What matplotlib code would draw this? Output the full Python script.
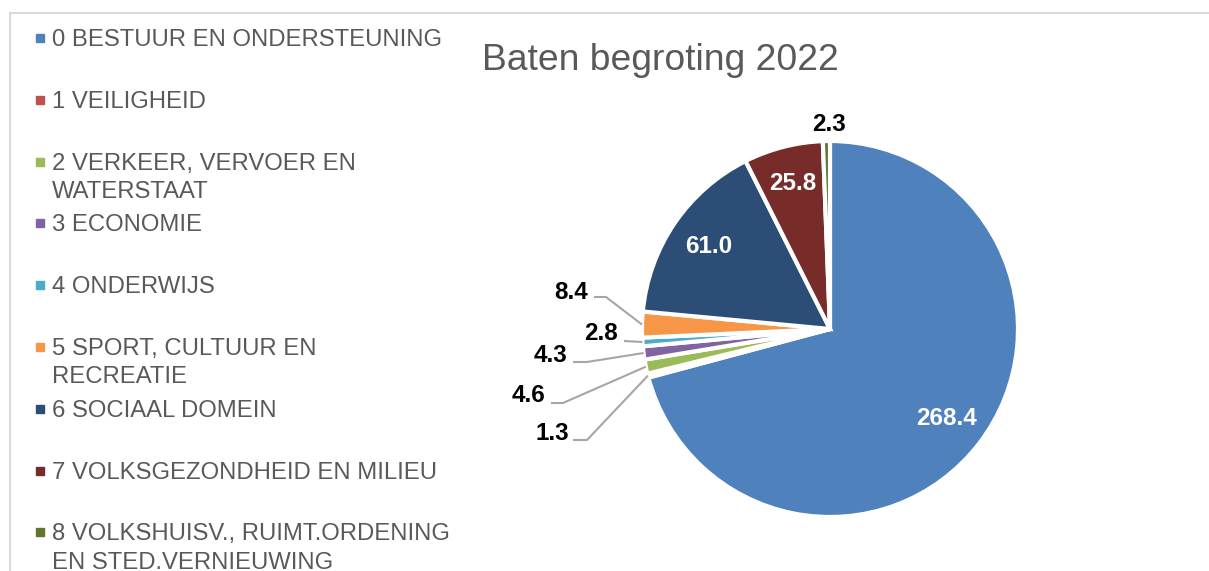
import numpy as np
import matplotlib
matplotlib.use('Agg')
import matplotlib.pyplot as plt
from matplotlib.patches import Rectangle
from matplotlib.lines import Line2D

plt.rcParams['font.family'] = ['Liberation Sans', 'DejaVu Sans']

categories = ['0 BESTUUR EN ONDERSTEUNING', '1 VEILIGHEID',
              '2 VERKEER, VERVOER EN\nWATERSTAAT', '3 ECONOMIE', '4 ONDERWIJS',
              '5 SPORT, CULTUUR EN\nRECREATIE', '6 SOCIAAL DOMEIN',
              '7 VOLKSGEZONDHEID EN MILIEU',
              '8 VOLKSHUISV., RUIMT.ORDENING\nEN STED.VERNIEUWING']
values = [268.4, 1.3, 4.6, 4.3, 2.8, 8.4, 61.0, 25.8, 2.3]
colors = ['#4F81BD', '#C0504D', '#9BBB59', '#8064A2', '#4BACC6',
          '#F79646', '#2C4D75', '#772C2A', '#5F7530']
title = 'Baten begroting 2022'

W, H = 1209, 571
cx, cy, R = 830, 329, 188  # pie centre / radius in pixels

fig = plt.figure(figsize=(W/100, H/100), dpi=100)
ax = fig.add_axes([0, 0, 1, 1])

def px(x, y):
    # pixel (from top-left) -> data coords of the pie axes
    return (x-cx)/R, (cy-y)/R

wedges, _ = ax.pie(values, colors=colors, startangle=90, counterclock=False,
                   radius=1.0, center=(0, 0), frame=True,
                   wedgeprops=dict(edgecolor='white', linewidth=3))
ax.set_xlim(-cx/R, (W-cx)/R)
ax.set_ylim((cy-H)/R, cy/R)
ax.set_aspect('equal')
ax.axis('off')

# label placement (pixels): inside labels use r fraction, outside use text pos + elbow
inside = {0: 0.78, 6: 0.78, 7: 0.80}
outside = {5: ((571, 292), (594, 297), (606, 297)),
           4: ((601, 334), (624, 341), (624, 341)),
           3: ((551, 355), (573, 362), (587, 362)),
           2: ((528, 396), (551, 403), (563, 403)),
           1: ((552, 433), (573, 440), (587, 440))}

lblsize = 17.5
for i, w in enumerate(wedges):
    mid = np.deg2rad((w.theta1 + w.theta2) / 2)
    lab = '%.1f' % values[i]
    if i in inside:
        r = inside[i]
        ax.text(r*np.cos(mid), r*np.sin(mid), lab, color='white', fontsize=lblsize,
                fontweight='bold', ha='center', va='center')
    elif i in outside:
        tp, p1, p2 = outside[i]
        ex, ey = 1.0*np.cos(mid), 1.0*np.sin(mid)
        xs = [px(*p1)[0], px(*p2)[0], ex]
        ys = [px(*p1)[1], px(*p2)[1], ey]
        ax.plot(xs, ys, color='#A6A6A6', lw=1.5, solid_capstyle='butt')
        ax.text(*px(*tp), lab, color='black', fontsize=lblsize, fontweight='bold',
                ha='center', va='center')
    else:
        ax.text(*px(829, 124), lab, color='black', fontsize=lblsize,
                fontweight='bold', ha='center', va='center')

# title
fig.text(660/W, 1-60/H, title, fontsize=26.8, color='#595959',
         ha='center', va='center')

# legend, first-line spacing fixed like the original
for i, (lab, c) in enumerate(zip(categories, colors)):
    y = 38 + 61.8*i
    fig.patches.append(Rectangle((36/W, 1-(y+4)/H), 8/W, 8/H, color=c,
                                 transform=fig.transFigure, figure=fig))
    fig.text(52/W, 1-(y-9)/H, lab, fontsize=17.2, color='#595959',
             ha='left', va='top', linespacing=1.38)

# chart border
fig.add_artist(Line2D([10/W, 1], [1-13/H, 1-13/H], color='#D9D9D9', lw=1.5,
                      transform=fig.transFigure))
fig.add_artist(Line2D([10/W, 10/W], [1-13/H, 0], color='#D9D9D9', lw=1.5,
                      transform=fig.transFigure))

fig.savefig('out.png', dpi=100)
